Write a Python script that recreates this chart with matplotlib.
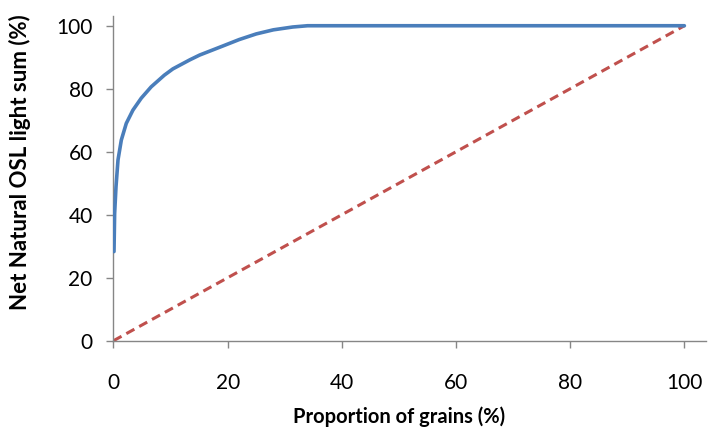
import matplotlib
matplotlib.use("Agg")
import matplotlib.pyplot as plt

# cumulative light sum curve
grains_pct = [0.09, 0.2, 0.44, 0.79, 1.37, 2.24, 3.4, 4.86, 6.6, 8.9, 10.4, 13.4,
              15.1, 19.2, 22.0, 25.0, 28.0, 31.4, 34.0, 36.0, 100.0]
light_sum_pct = [28.3, 40.4, 48.9, 57.4, 63.7, 69.0, 73.2, 77.0, 80.6, 84.3, 86.3, 89.2,
                 90.7, 93.6, 95.6, 97.4, 98.7, 99.6, 100.0, 100.0, 100.0]

# 1:1 reference line
ref_x = [0, 100]
ref_y = [0, 100]

xticks = [0, 20, 40, 60, 80, 100]
yticks = [0, 20, 40, 60, 80, 100]

plt.rcParams['font.family'] = ['Lato', 'DejaVu Sans']

fig = plt.figure(figsize=(7.08, 4.32), dpi=100)
ax = fig.add_axes([0.1603, 0.2113, 0.837, 0.751])

ax.plot(ref_x, ref_y, color='#c0504d', linewidth=2.2, linestyle=(0, (3, 1.8)), zorder=2)
ax.plot(grains_pct, light_sum_pct, color='#4a7ebb', linewidth=2.6,
        solid_capstyle='round', solid_joinstyle='round', zorder=3)

ax.set_xlim(0, 103.8)
ax.set_ylim(0, 103)
ax.set_xticks(xticks)
ax.set_yticks(yticks)

for side in ['top', 'right']:
    ax.spines[side].set_visible(False)
for side in ['left', 'bottom']:
    ax.spines[side].set_color('#868686')
    ax.spines[side].set_linewidth(1.0)

ax.tick_params(axis='both', direction='out', length=5, width=1.0, color='#868686',
               labelsize=15, labelcolor='black')
ax.tick_params(axis='x', pad=18)
ax.tick_params(axis='y', pad=10)

fig.text(0.5636, 0.036, 'Proportion of grains (%)', ha='center', va='center',
         fontsize=14.5, fontweight='bold')
fig.text(0.028, 0.624, 'Net Natural OSL light sum (%)', ha='center', va='center',
         rotation=90, fontsize=16, fontweight='bold')

fig.savefig('out.png', dpi=100)
